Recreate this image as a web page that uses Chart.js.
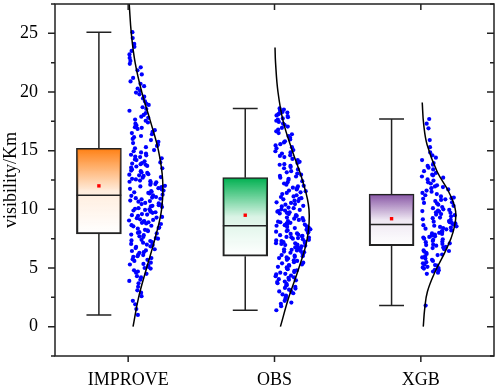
<!DOCTYPE html>
<html>
<head>
<meta charset="utf-8">
<script src="https://cdn.jsdelivr.net/npm/chart.js@4/dist/chart.umd.min.js"></script>
<style>
  body { margin: 0; background: #fff; font-family: 'Liberation Serif', serif; }
  #wrap { width: 498px; height: 386px; }
</style>
</head>
<body>
<div id="wrap"><canvas id="rainChart"></canvas></div>
<script>
// categories and box statistics
const categories = ['IMPROVE', 'OBS', 'XGB'];
const boxMin = [1.0, 1.4, 1.8];
const boxQ1 = [7.9, 6.0, 6.9];
const boxMedian = [11.2, 8.6, 8.7];
const boxQ3 = [15.2, 12.7, 11.3];
const boxMax = [25.1, 18.6, 17.7];
const boxMean = [12.0, 9.5, 9.2];
const boxColors = ['255,128,20', '0,176,80', '135,85,165'];

// normal curves: visibility level -> relative density
const improveCurveY = [0, 2.5, 5, 7.5, 10, 12.5, 15, 17.5, 20, 22.5, 25, 27.5];
const improveCurveD = [0.14, 0.30, 0.53, 0.77, 0.96, 0.99, 0.87, 0.64, 0.39, 0.20, 0.09, 0.03];
const obsCurveY = [0, 2.5, 5, 7.5, 10, 12.5, 15, 17.5, 20, 22.5, 23.8];
const obsCurveD = [0.17, 0.41, 0.70, 0.94, 0.99, 0.80, 0.51, 0.25, 0.10, 0.03, 0.015];
const xgbCurveY = [0, 1.5, 3, 4.75, 6.4, 8.1, 9.8, 11.5, 13.2, 15.5, 17.3, 19.1];
const xgbCurveD = [0.07, 0.11, 0.19, 0.42, 0.70, 0.93, 1.0, 0.80, 0.47, 0.18, 0.08, 0.04];

// individual observations
const improveVis = [
  1.0, 1.5, 1.9, 2.2, 2.6, 2.9, 3.1, 3.4, 3.7, 3.9,
  4.0, 4.2, 4.3, 4.5, 4.6, 4.7, 4.8, 4.95,
  5.0, 5.1, 5.2, 5.3, 5.35, 5.45, 5.6, 5.7, 5.75, 5.85, 5.95,
  6.0, 6.1, 6.15, 6.3, 6.35, 6.45, 6.5, 6.6, 6.7, 6.8, 6.85, 6.95,
  7.0, 7.05, 7.15, 7.2, 7.3, 7.35, 7.4, 7.5, 7.55, 7.65, 7.7, 7.8, 7.85, 7.95,
  8.0, 8.05, 8.15, 8.2, 8.25, 8.35, 8.4, 8.45, 8.55, 8.6, 8.65, 8.75, 8.8, 8.85, 8.9, 8.95,
  9.0, 9.05, 9.1, 9.15, 9.25, 9.3, 9.35, 9.45, 9.5, 9.55, 9.6, 9.7, 9.75, 9.8, 9.85, 9.9, 9.95,
  10.0, 10.05, 10.1, 10.2, 10.25, 10.3, 10.35, 10.45, 10.5, 10.55, 10.65, 10.7, 10.75, 10.85, 10.9, 10.95, 10.4,
  11.0, 11.05, 11.15, 11.2, 11.25, 11.35, 11.4, 11.5, 11.55, 11.6, 11.7, 11.75, 11.8, 11.9, 11.95, 11.45,
  12.0, 12.1, 12.15, 12.25, 12.3, 12.4, 12.45, 12.55, 12.6, 12.7, 12.75, 12.85, 12.9, 12.95, 12.35,
  13.0, 13.1, 13.15, 13.25, 13.3, 13.4, 13.5, 13.55, 13.65, 13.7, 13.8, 13.85, 13.9, 13.95,
  14.0, 14.1, 14.2, 14.25, 14.35, 14.45, 14.5, 14.6, 14.65, 14.75, 14.85, 14.95,
  15.05, 15.2, 15.3, 15.4, 15.5, 15.65, 15.75, 15.9,
  16.0, 16.15, 16.25, 16.4, 16.5, 16.6, 16.75, 16.85, 16.95,
  17.0, 17.15, 17.3, 17.4, 17.55, 17.65, 17.8, 17.9,
  18.05, 18.2, 18.4, 18.55, 18.7, 18.9,
  19.0, 19.2, 19.45, 19.6, 19.8, 19.95,
  20.1, 20.3, 20.5, 20.7, 20.9,
  21.2, 21.5, 21.85,
  22.1, 22.4, 22.65, 22.9,
  23.2, 23.5, 23.85,
  24.1, 24.6,
  25.1
];
const obsVis = [
  1.4, 1.75, 1.95,
  2.05, 2.2, 2.35, 2.45, 2.55, 2.65, 2.75, 2.85, 2.95,
  3.0, 3.1, 3.15, 3.25, 3.3, 3.4, 3.5, 3.55, 3.65, 3.7, 3.8, 3.85, 3.95,
  4.0, 4.05, 4.15, 4.2, 4.3, 4.35, 4.45, 4.5, 4.6, 4.65, 4.75, 4.8, 4.9, 4.95,
  5.0, 5.05, 5.1, 5.2, 5.25, 5.3, 5.4, 5.45, 5.5, 5.6, 5.65, 5.7, 5.8, 5.85, 5.9, 5.95,
  6.0, 6.05, 6.1, 6.15, 6.2, 6.25, 6.3, 6.4, 6.45, 6.5, 6.55, 6.6, 6.65, 6.7, 6.75, 6.8, 6.85, 6.9, 6.95, 6.35,
  7.0, 7.05, 7.1, 7.15, 7.2, 7.25, 7.3, 7.35, 7.4, 7.45, 7.5, 7.55, 7.6, 7.65, 7.7, 7.75, 7.8, 7.85, 7.9, 7.95, 7.12, 7.62,
  8.0, 8.05, 8.1, 8.15, 8.2, 8.25, 8.3, 8.35, 8.4, 8.45, 8.5, 8.55, 8.6, 8.65, 8.7, 8.75, 8.8, 8.85, 8.9, 8.95,
  9.0, 9.05, 9.1, 9.2, 9.25, 9.3, 9.4, 9.45, 9.5, 9.6, 9.65, 9.7, 9.75, 9.8, 9.85, 9.9, 9.95,
  10.0, 10.1, 10.15, 10.25, 10.3, 10.4, 10.45, 10.55, 10.6, 10.7, 10.75, 10.85, 10.9, 10.95,
  11.05, 11.1, 11.2, 11.3, 11.4, 11.45, 11.55, 11.6, 11.7, 11.8, 11.85, 11.95,
  12.0, 12.1, 12.2, 12.3, 12.4, 12.5, 12.6, 12.7, 12.8, 12.85, 12.95,
  13.05, 13.15, 13.25, 13.4, 13.5, 13.6, 13.7, 13.8, 13.85, 13.95,
  14.05, 14.2, 14.3, 14.45, 14.55, 14.6, 14.75, 14.85, 14.95,
  15.05, 15.2, 15.3, 15.45, 15.55, 15.7, 15.8, 15.95,
  16.1, 16.25, 16.4, 16.5, 16.65, 16.8, 16.95,
  17.05, 17.2, 17.3, 17.45, 17.55, 17.65, 17.75, 17.85, 17.95,
  18.0, 18.1, 18.15, 18.25, 18.3, 18.4, 18.5, 18.6
];
const xgbVis = [
  1.8,
  4.5, 4.6, 4.7, 4.8, 4.85, 4.95,
  5.0, 5.05, 5.1, 5.2, 5.25, 5.3, 5.4, 5.5, 5.6, 5.7, 5.8, 5.9,
  6.0, 6.1, 6.15, 6.2, 6.3, 6.4, 6.45, 6.5, 6.6, 6.7, 6.75, 6.8, 6.9, 6.95,
  7.0, 7.05, 7.1, 7.2, 7.25, 7.3, 7.4, 7.45, 7.5, 7.6, 7.65, 7.7, 7.75, 7.8, 7.85, 7.9, 7.95,
  8.0, 8.1, 8.15, 8.2, 8.3, 8.35, 8.4, 8.5, 8.55, 8.6, 8.65, 8.7, 8.8, 8.85, 8.9, 8.95, 8.45,
  9.0, 9.1, 9.15, 9.25, 9.3, 9.4, 9.5, 9.55, 9.6, 9.7, 9.75, 9.8, 9.85, 9.9, 9.95,
  10.0, 10.1, 10.2, 10.3, 10.4, 10.5, 10.55, 10.6, 10.7, 10.8, 10.85, 10.9, 10.95,
  11.0, 11.1, 11.2, 11.3, 11.4, 11.5, 11.6, 11.7, 11.8, 11.9, 11.95,
  12.05, 12.2, 12.3, 12.45, 12.55, 12.7, 12.8, 12.9, 12.95,
  13.1, 13.25, 13.4, 13.55, 13.7, 13.8, 13.95,
  14.2, 14.4, 14.6, 14.85,
  15.3, 15.9,
  16.9,
  17.3, 17.7
];

const BOX_OFF = -0.2;    // box centre relative to category
const BOX_HALF = 0.153;  // half box width (x units)
const CAP_HALF = 0.085;  // half whisker cap width
const CURVE_W = 0.238;   // curve peak width (x units)

const groups = [
  { vis: improveVis, cy: improveCurveY, cd: improveCurveD },
  { vis: obsVis, cy: obsCurveY, cd: obsCurveD },
  { vis: xgbVis, cy: xgbCurveY, cd: xgbCurveD }
];

function densAt(ys, ds, v) {
  if (v <= ys[0]) return ds[0];
  for (let k = 1; k < ys.length; k++) {
    if (v <= ys[k]) {
      const t = (v - ys[k - 1]) / (ys[k] - ys[k - 1]);
      return ds[k - 1] + t * (ds[k] - ds[k - 1]);
    }
  }
  return ds[ds.length - 1];
}

// sideways spread of the dots inside the density envelope (fixed hash, no data)
function spread(k, i) {
  const s = Math.sin(k * 12.9898 + i * 78.233) * 43758.5453;
  return s - Math.floor(s);
}

function jitterPoints(g, i) {
  return g.vis.map((v, k) => {
    const u = spread(k + 1, i + 1);
    return { x: i + 0.005 + u * (0.04 + densAt(g.cy, g.cd, v) * 0.21), y: v };
  });
}

const whiskerData = [];
const medianData = [];
categories.forEach((c, i) => {
  const cx = i + BOX_OFF;
  whiskerData.push(
    { x: cx, y: boxMax[i] }, { x: cx, y: boxQ3[i] }, { x: cx, y: null },
    { x: cx, y: boxQ1[i] }, { x: cx, y: boxMin[i] }, { x: cx, y: null },
    { x: cx - CAP_HALF, y: boxMax[i] }, { x: cx + CAP_HALF, y: boxMax[i] }, { x: cx, y: null },
    { x: cx - CAP_HALF, y: boxMin[i] }, { x: cx + CAP_HALF, y: boxMin[i] }, { x: cx, y: null }
  );
  medianData.push({ x: cx - BOX_HALF, y: boxMedian[i] }, { x: cx + BOX_HALF, y: boxMedian[i] }, { x: cx, y: null });
});

const datasets = [];
groups.forEach((g, i) => {
  datasets.push({
    type: 'line',
    data: g.cy.map((v, k) => ({ x: i + g.cd[k] * CURVE_W, y: v })),
    borderColor: '#000', borderWidth: 1.5, pointRadius: 0, tension: 0.4, order: 0
  });
  datasets.push({
    type: 'scatter',
    data: jitterPoints(g, i),
    backgroundColor: '#0000ff', borderWidth: 0, pointRadius: 2.1, order: 1
  });
});
datasets.push({
  type: 'scatter',
  data: categories.map((c, i) => ({ x: i + BOX_OFF, y: boxMean[i] })),
  backgroundColor: '#ff0000', borderWidth: 0, pointStyle: 'rect', pointRadius: 2.4, order: 0
});
datasets.push({
  type: 'line', data: medianData, borderColor: '#222', borderWidth: 1.5,
  pointRadius: 0, spanGaps: false, order: 2
});
datasets.push({
  type: 'bar',
  data: categories.map((c, i) => ({ x: i + BOX_OFF, y: [boxQ1[i], boxQ3[i]] })),
  barThickness: 45, grouped: false, borderSkipped: false,
  borderColor: '#222', borderWidth: 1.5, order: 3,
  backgroundColor: (ctx) => {
    const i = ctx.dataIndex;
    const chart = ctx.chart;
    if (i === undefined || !chart.chartArea) return 'rgb(' + boxColors[0] + ')';
    const y = chart.scales.y;
    const top = y.getPixelForValue(boxQ3[i]);
    const bot = y.getPixelForValue(boxQ1[i]);
    const grad = chart.ctx.createLinearGradient(0, top, 0, bot);
    grad.addColorStop(0, 'rgba(' + boxColors[i] + ',1)');
    grad.addColorStop(0.5, 'rgba(' + boxColors[i] + ',0.14)');
    grad.addColorStop(1, 'rgba(' + boxColors[i] + ',0)');
    return grad;
  }
});
datasets.push({
  type: 'line', data: whiskerData, borderColor: '#222', borderWidth: 1.5,
  pointRadius: 0, spanGaps: false, order: 4
});

// frame with inward/outward ticks like the original plot
const framePlugin = {
  id: 'frame',
  afterDatasetsDraw(chart) {
    const { ctx, chartArea: a, scales: { x, y } } = chart;
    ctx.save();
    ctx.strokeStyle = '#222';
    ctx.lineWidth = 1.5;
    ctx.strokeRect(a.left, a.top, a.right - a.left, a.bottom - a.top);
    ctx.beginPath();
    y.ticks.forEach(t => {
      const py = y.getPixelForValue(t.value);
      const len = t.value % 5 === 0 ? 7 : 4;
      ctx.moveTo(a.left - len, py); ctx.lineTo(a.left, py);
      ctx.moveTo(a.right, py); ctx.lineTo(a.right - len, py);
    });
    categories.forEach((c, i) => {
      const px = x.getPixelForValue(i);
      ctx.moveTo(px, a.bottom); ctx.lineTo(px, a.bottom + 6);
      ctx.moveTo(px, a.top); ctx.lineTo(px, a.top + 6);
    });
    ctx.stroke();
    ctx.restore();
  }
};

Chart.defaults.font.family = "'Times New Roman', 'Liberation Serif', serif";
Chart.defaults.color = '#000';

new Chart(document.getElementById('rainChart'), {
  type: 'scatter',
  data: { datasets: datasets },
  options: {
    responsive: true,
    maintainAspectRatio: false,
    animation: false,
    layout: { padding: { top: 2, right: 2, left: 0, bottom: 0 } },
    plugins: { legend: { display: false }, tooltip: { enabled: false } },
    scales: {
      x: {
        type: 'linear', min: -0.5, max: 2.5, offset: false,
        grid: { display: false }, border: { display: false },
        afterBuildTicks: (scale) => { scale.ticks = categories.map((c, i) => ({ value: i })); },
        afterFit: (scale) => { scale.height = 30; scale.paddingLeft = 0; scale.paddingRight = 0; },
        ticks: {
          autoSkip: false, maxRotation: 0, padding: 5,
          font: { size: 18 },
          callback: (v) => categories[v]
        }
      },
      y: {
        min: -2.5, max: 27.5,
        grid: { display: false }, border: { display: false },
        afterFit: (scale) => { scale.width = 55; scale.paddingTop = 0; scale.paddingBottom = 0; },
        ticks: {
          stepSize: 2.5, padding: 9,
          font: { size: 18 },
          callback: (v) => (v % 5 === 0 ? v : '')
        },
        title: { display: true, text: 'visibility/Km', font: { size: 18 }, padding: 0 }
      }
    }
  },
  plugins: [framePlugin]
});
</script>
</body>
</html>
